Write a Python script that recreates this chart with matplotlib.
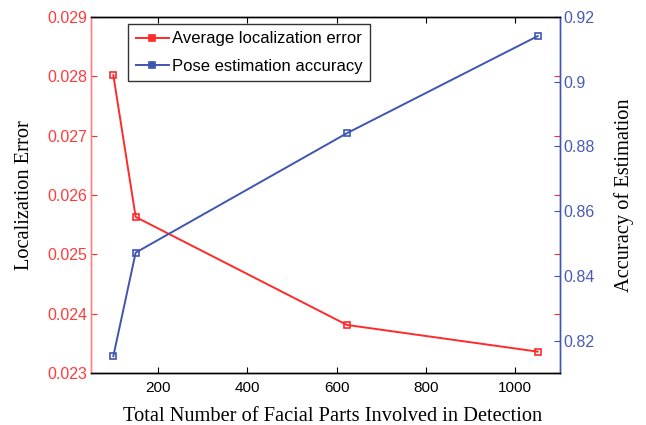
import matplotlib
matplotlib.use("Agg")
import matplotlib.pyplot as plt

parts = [100, 150, 623, 1050]
loc_error = [0.02802, 0.02563, 0.02381, 0.02336]
pose_acc = [0.8152, 0.8472, 0.8841, 0.9141]

left_ticks = [0.023, 0.024, 0.025, 0.026, 0.027, 0.028, 0.029]
right_ticks = [0.82, 0.84, 0.86, 0.88, 0.90, 0.92]
right_ticklabels = ["0.82", "0.84", "0.86", "0.88", "0.9", "0.92"]
x_ticks = [200, 400, 600, 800, 1000]

RED = "#FF2A2A"
BLUE = "#3F55B0"
RED_T = "#FF3B3B"
BLUE_T = "#4A5BB5"

fig = plt.figure(figsize=(6.46, 4.25), dpi=100)
ax = fig.add_axes([91/646, 1-373/425, (560-91)/646, (373-17)/425])
ax2 = ax.twinx()

l1, = ax.plot(parts, loc_error, color=RED, lw=1.4, marker="s", ms=4.5,
              mfc="none", mec=RED, mew=1.2, label="Average localization error")
l2, = ax2.plot(parts, pose_acc, color=BLUE, lw=1.4, marker="s", ms=4.5,
               mfc="none", mec=BLUE, mew=1.2, label="Pose estimation accuracy")

ax.set_xlim(50, 1100)
ax.set_ylim(0.023, 0.029)
ax2.set_ylim(0.81, 0.92)

ax.set_xticks(x_ticks)
ax.set_xticklabels([str(v) for v in x_ticks])
ax.set_yticks(left_ticks)
ax.set_yticklabels([f"{v:.3f}" for v in left_ticks])
ax2.set_yticks(right_ticks)
ax2.set_yticklabels(right_ticklabels)

tick_font = "Liberation Sans"
for lab in ax.get_xticklabels():
    lab.set_family(tick_font)
    lab.set_fontsize(11)
for lab in ax.get_yticklabels() + ax2.get_yticklabels():
    lab.set_family(tick_font)
    lab.set_fontsize(11.5)

ax.tick_params(axis="x", direction="in", top=True, length=4, colors="black", pad=6)
ax.tick_params(axis="y", direction="in", right=True, length=4, color=RED, labelcolor=RED_T, pad=2.5)
ax2.tick_params(axis="y", direction="in", length=4, color=BLUE, labelcolor=BLUE_T, pad=2.5)

for a in (ax, ax2):
    a.spines["top"].set_color("black")
    a.spines["bottom"].set_color("black")
    a.spines["left"].set_color("#FF8080")
    a.spines["right"].set_color(BLUE)
    for s in a.spines.values():
        s.set_linewidth(1.0)

serif = "Liberation Serif"
ax.set_xlabel("Total Number of Facial Parts Involved in Detection", family=serif, fontsize=14.7)
ax.xaxis.set_label_coords(0.516, -0.095)
ax.set_ylabel("Localization Error", family=serif, fontsize=14.7, labelpad=10)
ax2.set_ylabel("Accuracy of Estimation", family=serif, fontsize=14.7, labelpad=14)

leg = ax.legend(handles=[l1, l2], loc="upper left",
                bbox_to_anchor=(128/646, 1-24/425), bbox_transform=fig.transFigure,
                prop={"family": tick_font, "size": 12}, frameon=True, fancybox=False,
                edgecolor="black", borderpad=0.45, handlelength=2.0, handletextpad=0.2,
                labelspacing=0.72, borderaxespad=0)
leg.get_frame().set_linewidth(1.0)
for h in leg.legend_handles:
    h.set_markerfacecolor(h.get_color())

fig.savefig("out.png", dpi=100)
